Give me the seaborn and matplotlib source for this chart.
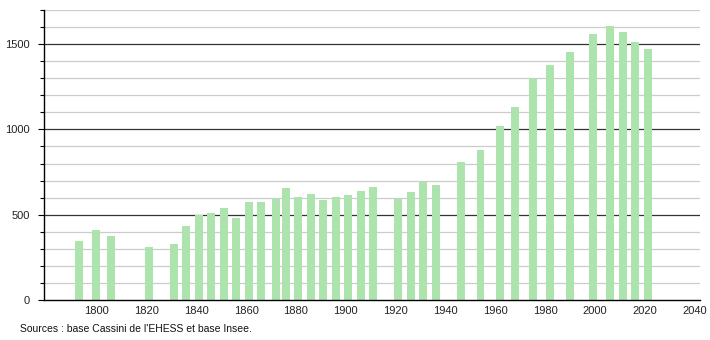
import matplotlib
matplotlib.use("Agg")
import matplotlib.pyplot as plt
import seaborn as sns
import pandas as pd

years = [1793, 1800, 1806, 1821, 1831, 1836, 1841, 1846, 1851, 1856,
         1861, 1866, 1872, 1876, 1881, 1886, 1891, 1896, 1901, 1906,
         1911, 1921, 1926, 1931, 1936, 1946, 1954, 1962, 1968, 1975,
         1982, 1990, 1999, 2006, 2011, 2016, 2021]
population = [347, 412, 376, 312, 330, 435, 500, 512, 541, 482,
              576, 576, 594, 659, 604, 624, 588, 606, 616, 639,
              661, 594, 633, 694, 676, 808, 882, 1018, 1131, 1303,
              1376, 1451, 1559, 1604, 1569, 1510, 1471]
x_ticks = [1800, 1820, 1840, 1860, 1880, 1900, 1920, 1940, 1960, 1980, 2000, 2020, 2040]
y_major = [0, 500, 1000, 1500]
source_text = "Sources : base Cassini de l'EHESS et base Insee."

sns.set_style("white")
plt.rcParams['font.family'] = ['Liberation Sans', 'DejaVu Sans']

df = pd.DataFrame({"year": years, "pop": population})

fig = plt.figure(figsize=(7.1, 3.4), dpi=100)
ax = fig.add_axes([44/710, 40/340, 656/710, 290/340])

sns.barplot(data=df, x="year", y="pop", native_scale=True, color="#ade4ad",
            saturation=1, width=0.8, linewidth=0, errorbar=None, ax=ax)

ax.set_xlim(1779, 2042)
ax.set_ylim(0, 1700)
ax.set_xlabel("")
ax.set_ylabel("")

# grid
for v in range(100, 1701, 100):
    if v % 500 == 0:
        ax.axhline(v, color="#333333", lw=0.9, zorder=0)
    else:
        ax.axhline(v, color="#cccccc", lw=0.9, zorder=0)
ax.set_axisbelow(True)

ax.set_xticks(x_ticks)
ax.set_xticklabels([str(t) for t in x_ticks], fontsize=8, color="#222222")
ax.set_yticks(y_major)
ax.set_yticklabels([str(t) for t in y_major], fontsize=8, color="#222222")
ax.set_yticks(range(0, 1701, 100), minor=True)
ax.tick_params(axis="x", length=0, pad=4)
ax.tick_params(axis="y", which="major", length=4, width=0.8, color="black", pad=6, left=True)
ax.tick_params(axis="y", which="minor", length=3, width=0.8, color="black", left=True)

for s in ["top", "right"]:
    ax.spines[s].set_visible(False)
ax.spines["left"].set_color("black")
ax.spines["bottom"].set_color("black")
ax.spines["left"].set_linewidth(1)
ax.spines["bottom"].set_linewidth(1)

fig.text(20/710, 1 - 329/340, source_text, fontsize=7.5, color="#111111", va="center", ha="left")

fig.savefig("out.png", dpi=100)
